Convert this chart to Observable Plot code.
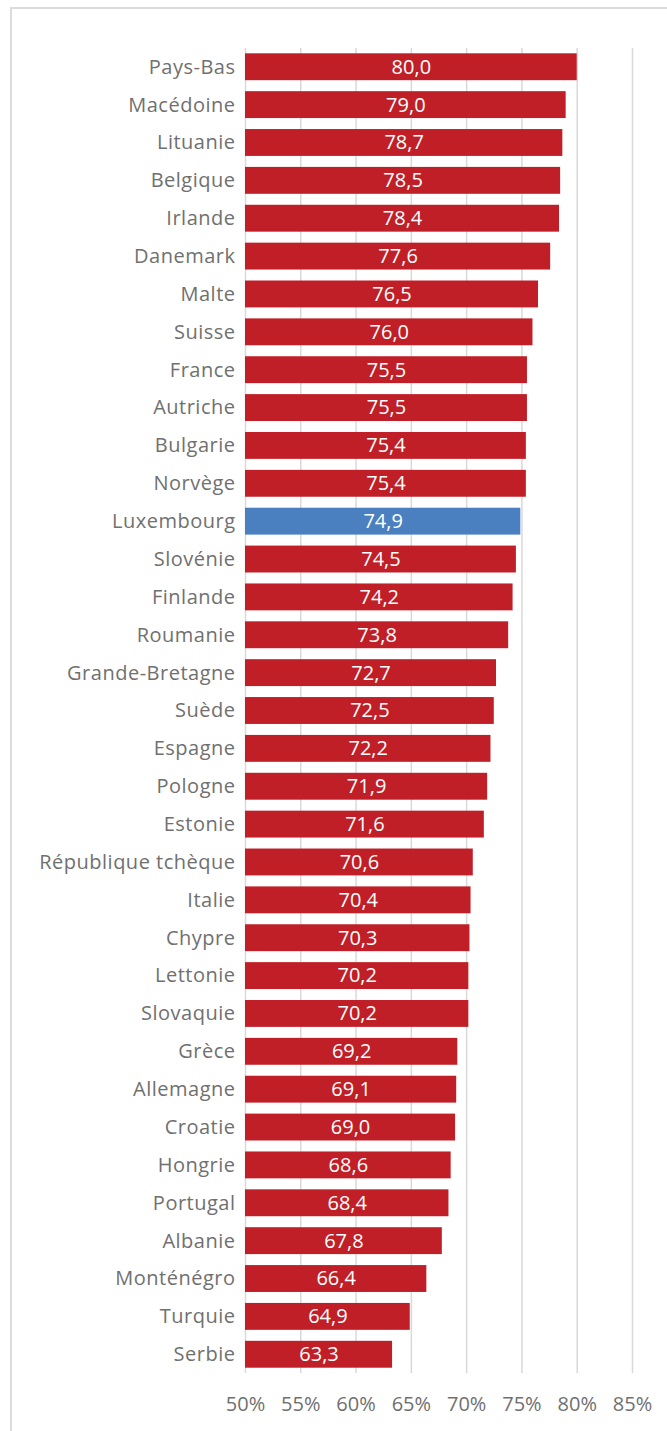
<!DOCTYPE html>
<html><head><meta charset="utf-8">
<script src="https://cdn.jsdelivr.net/npm/d3@7"></script>
<script src="https://cdn.jsdelivr.net/npm/@observablehq/plot@0.6"></script>
<style>
html,body{margin:0;padding:0;background:#fff;}
#wrap{position:relative;width:667px;height:1431px;overflow:hidden;}
#frame{position:absolute;left:10px;top:7px;width:700px;height:1460px;border:2px solid #dcdcdc;box-sizing:border-box;}
#chart{position:absolute;left:0;top:0;}
#chart svg text{font-family:"Open Sans",sans-serif;font-size:20px;}
#chart svg g[aria-label="y-axis tick label"] text{letter-spacing:0.5px;}
</style></head>
<body><div id="wrap"><div id="frame"></div><div id="chart"></div></div>
<script>
const countries = ["Pays-Bas","Macédoine","Lituanie","Belgique","Irlande","Danemark","Malte","Suisse","France","Autriche","Bulgarie","Norvège","Luxembourg","Slovénie","Finlande","Roumanie","Grande-Bretagne","Suède","Espagne","Pologne","Estonie","République tchèque","Italie","Chypre","Lettonie","Slovaquie","Grèce","Allemagne","Croatie","Hongrie","Portugal","Albanie","Monténégro","Turquie","Serbie"];
const values = [80.0,79.0,78.7,78.5,78.4,77.6,76.5,76.0,75.5,75.5,75.4,75.4,74.9,74.5,74.2,73.8,72.7,72.5,72.2,71.9,71.6,70.6,70.4,70.3,70.2,70.2,69.2,69.1,69.0,68.6,68.4,67.8,66.4,64.9,63.3];
const highlight = "Luxembourg";
const xTicks = [50,55,60,65,70,75,80,85];

const data = countries.map((c,i)=>({country:c, value:values[i]}));
const fmt = v => v.toFixed(1).replace(".", ",");

const chart = Plot.plot({
  width: 667,
  height: 1431,
  marginLeft: 245,
  marginRight: 35,
  marginTop: 48,
  marginBottom: 58,
  style: {fontFamily: "'Open Sans', sans-serif", fontSize: "20px", color: "#707070", background: "transparent"},
  x: {domain: [50, 85], ticks: xTicks, tickFormat: d => d + "%", tickSize: 0, tickPadding: 23, label: null},
  y: {domain: countries, paddingInner: 0.29, paddingOuter: 0.14, tickSize: 0, tickPadding: 10, label: null},
  marks: [
    Plot.ruleX(xTicks, {stroke: "#d9d9d9", strokeWidth: 1.5}),
    Plot.barX(data, {y: "country", x1: 50, x2: "value", fill: d => d.country === highlight ? "#4a80c0" : "#c01f27"}),
    Plot.text(data, {y: "country", x: d => (50 + d.value) / 2, text: d => fmt(d.value), fill: "white", fontSize: 20})
  ]
});
document.getElementById("chart").appendChild(chart);
</script>
</body></html>
